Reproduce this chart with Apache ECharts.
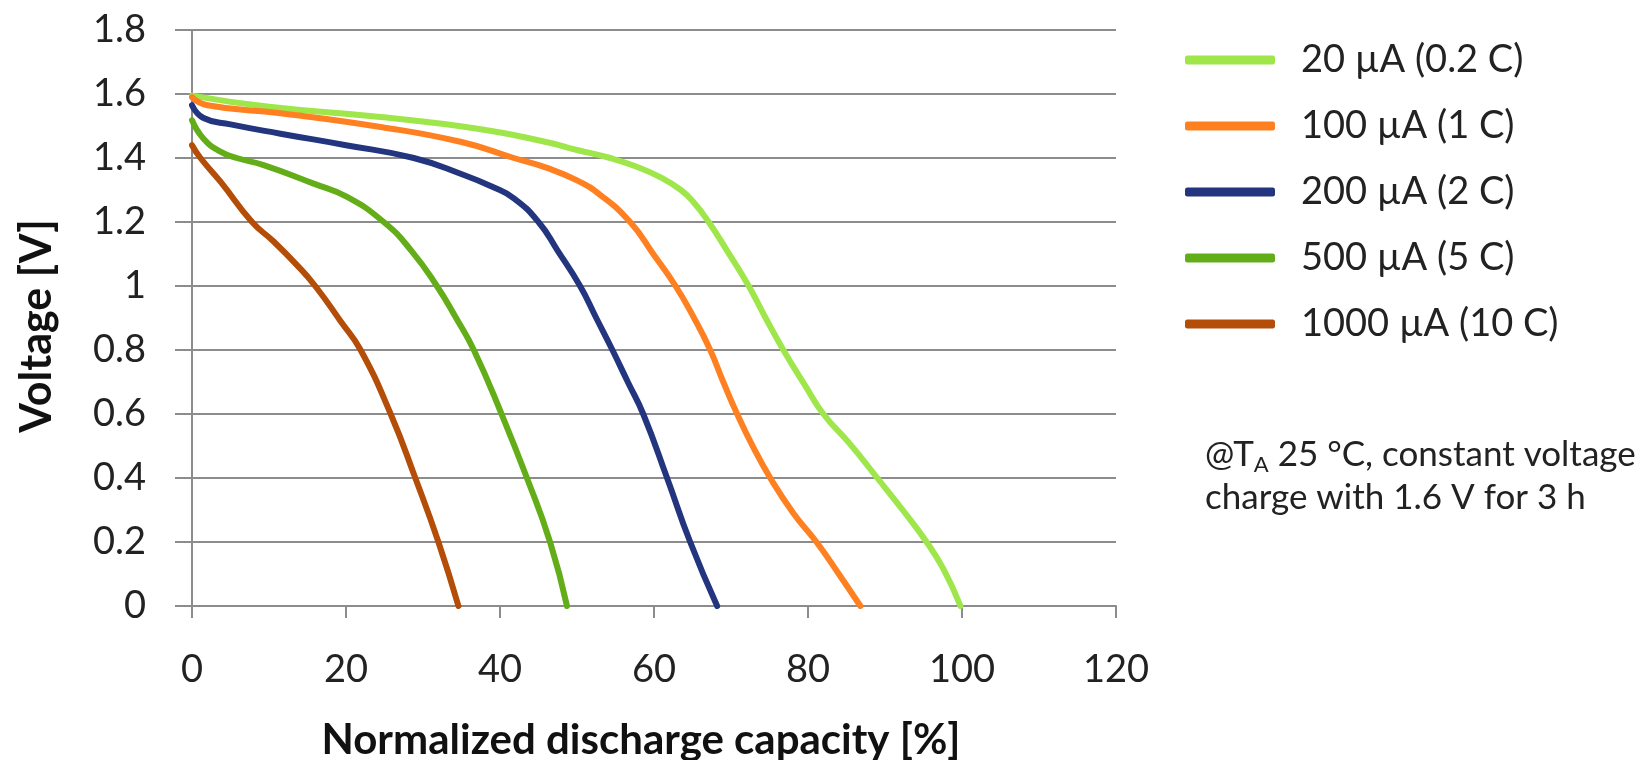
<!DOCTYPE html>
<html>
<head>
<meta charset="utf-8">
<script src="https://cdn.jsdelivr.net/npm/echarts@6/dist/echarts.min.js"></script>
<style>
  html, body { margin: 0; padding: 0; background: #fff; }
  #chart { width: 1644px; height: 760px; }
</style>
</head>
<body>
<div id="chart"></div>
<script>
// discharge capacity [%] vs voltage [V]
const seriesNames = ['20 µA (0.2 C)', '100 µA (1 C)', '200 µA (2 C)', '500 µA (5 C)', '1000 µA (10 C)']
const seriesColors = ['#9ee64a', '#ff8020', '#22357e', '#62ad18', '#b34d08']

const cap20 = [0, 10, 24.5, 37.5, 46, 50, 54.3, 57.5, 60.8, 63.5, 65.2, 67.1, 69.5, 72.3, 74.5, 76.8, 79.6, 82, 85.5, 89, 92.3, 95.4, 97.6, 99.8]
const volt20 = [1.595, 1.56, 1.528, 1.49, 1.45, 1.425, 1.40, 1.375, 1.34, 1.30, 1.26, 1.20, 1.11, 1.0, 0.90, 0.80, 0.69, 0.60, 0.505, 0.40, 0.30, 0.20, 0.115, 0]

const cap100 = [0, 2, 11.5, 24.5, 35, 41.8, 46, 50, 53, 56.9, 59.9, 62.8, 65.2, 67.3, 69, 70.8, 72.9, 75.1, 78.1, 81.1, 84, 86.8]
const volt100 = [1.59, 1.565, 1.54, 1.497, 1.45, 1.40, 1.37, 1.33, 1.285, 1.20, 1.10, 1.0, 0.90, 0.80, 0.70, 0.60, 0.496, 0.40, 0.29, 0.20, 0.10, 0]

const cap200 = [0, 1.5, 5, 11.5, 20, 28.8, 35.3, 39, 41.8, 45, 47.5, 50.4, 52.5, 54.6, 56.6, 58.6, 61.7, 64.7, 68.2]
const volt200 = [1.565, 1.525, 1.505, 1.476, 1.44, 1.40, 1.347, 1.31, 1.274, 1.20, 1.11, 1.0, 0.90, 0.80, 0.70, 0.60, 0.40, 0.20, 0]

const cap500 = [0, 1.5, 3.7, 5.8, 9.3, 15.8, 20, 24.9, 28.5, 31.8, 34.3, 36.6, 40.2, 43.5, 46.5, 48.7]
const volt500 = [1.518, 1.46, 1.42, 1.40, 1.378, 1.32, 1.28, 1.20, 1.11, 1.0, 0.90, 0.80, 0.60, 0.40, 0.20, 0]

const cap1000 = [0, 1.1, 3.7, 7.8, 10.6, 13.6, 16.0, 19.3, 21.9, 25.8, 29, 32, 34.6]
const volt1000 = [1.44, 1.40, 1.326, 1.20, 1.139, 1.066, 1.0, 0.89, 0.80, 0.60, 0.40, 0.20, 0]

const caps = [cap20, cap100, cap200, cap500, cap1000]
const volts = [volt20, volt100, volt200, volt500, volt1000]

const xTitle = 'Normalized discharge capacity [%]'
const yTitle = 'Voltage [V]'

const FONT = 'Lato, "Open Sans", sans-serif'
const chart = echarts.init(document.getElementById('chart'), null, { renderer: 'canvas' })

const pairs = (xs, ys) => xs.map((x, i) => [x, ys[i]])

const option = {
  animation: false,
  backgroundColor: '#fff',
  textStyle: { fontFamily: FONT },
  grid: { left: 192, right: 528, top: 30, bottom: 154, containLabel: false },
  legend: {
    orient: 'vertical',
    left: 1180,
    top: 35,
    icon: 'roundRect',
    itemWidth: 90,
    itemHeight: 9,
    itemGap: 26,
    data: seriesNames,
    textStyle: { fontSize: 38, color: '#222', fontFamily: FONT, padding: [0, 0, 0, 21], lineHeight: 40 },
  },
  xAxis: {
    type: 'value',
    min: 0,
    max: 120,
    interval: 20,
    axisLine: { show: true, onZero: false, lineStyle: { color: '#8c8c8c', width: 2 } },
    axisTick: { show: true, length: 12, lineStyle: { color: '#8c8c8c', width: 2 } },
    axisLabel: { fontSize: 38, color: '#222', margin: 45, fontFamily: FONT },
    splitLine: { show: false },
  },
  yAxis: {
    type: 'value',
    min: 0,
    max: 1.8,
    interval: 0.2,
    axisLine: { show: true, lineStyle: { color: '#8c8c8c', width: 2 } },
    axisTick: { show: true, length: 17, lineStyle: { color: '#8c8c8c', width: 2 } },
    axisLabel: {
      fontSize: 38, color: '#222', margin: 46, fontFamily: FONT,
      formatter: (v) => String(Math.round(v * 10) / 10),
    },
    splitLine: { show: true, lineStyle: { color: '#8c8c8c', width: 2 } },
  },
  series: seriesNames.map((name, i) => ({
    name: name,
    type: 'line',
    showSymbol: false,
    smooth: 0.5,
    color: seriesColors[i],
    lineStyle: { width: 6, color: seriesColors[i], cap: 'round', join: 'round' },
    data: pairs(caps[i], volts[i]),
  })),
  graphic: [
    {
      type: 'text',
      x: 641,
      y: 740,
      style: {
        text: xTitle, fontSize: 42, fontWeight: 'bold', fill: '#111', fontFamily: FONT,
        textAlign: 'center', textVerticalAlign: 'middle',
      },
    },
    {
      type: 'text',
      x: 37,
      y: 326,
      rotation: Math.PI / 2,
      style: {
        text: yTitle, fontSize: 43, fontWeight: 'bold', fill: '#111', fontFamily: FONT,
        textAlign: 'center', textVerticalAlign: 'middle',
      },
    },
    {
      type: 'text',
      left: 1205,
      top: 433,
      style: {
        text: '@T{sub|A} 25 °C, constant voltage\ncharge with 1.6 V for 3 h',
        fontSize: 35,
        lineHeight: 43,
        fill: '#222',
        fontFamily: FONT,
        rich: {
          sub: { fontSize: 22, verticalAlign: 'bottom', padding: [14, 0, 0, 0], fill: '#222', fontFamily: FONT },
        },
      },
    },
  ],
}

chart.setOption(option)
</script>
</body>
</html>
